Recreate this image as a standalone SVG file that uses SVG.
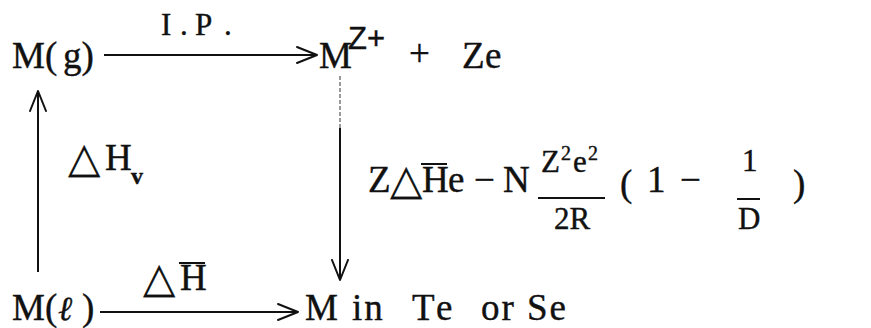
<svg xmlns="http://www.w3.org/2000/svg" width="871" height="328" viewBox="0 0 871 328">
<defs>
<style>
text{fill:#111;stroke:#111;stroke-width:0.4;}
.big{font-size:37px;}
.mid{font-size:31px;}
.sm{font-size:20px;}
.tri{font-family:'DejaVu Sans',sans-serif;font-size:42px;stroke-width:0.2;}
.ln{stroke:#111;stroke-width:2;fill:none;}
.bar{stroke:#111;stroke-width:2;}
.head{stroke:#111;stroke-width:2;fill:none;stroke-linecap:round;stroke-linejoin:round;}
</style>
<marker id="arr" viewBox="0 0 22 20" refX="21" refY="10" markerWidth="22" markerHeight="20" markerUnits="userSpaceOnUse" orient="auto">
<path d="M1,2 L21,10 L1,18" class="head"/>
</marker>
</defs>
<rect width="871" height="328" fill="#fff"/>
<g id="connectors">
<line class="ln" x1="104" y1="55" x2="317" y2="55" marker-end="url(#arr)"/>
<line class="ln" x1="38" y1="272" x2="38" y2="91" marker-end="url(#arr)"/>
<line x1="340" y1="76" x2="340" y2="128" stroke="#555" stroke-width="1.2" stroke-dasharray="4,2"/>
<line class="ln" x1="340" y1="128" x2="340" y2="280" marker-end="url(#arr)"/>
<line class="ln" x1="100" y1="312" x2="298" y2="312" marker-end="url(#arr)"/>
</g>
<g font-family="Liberation Serif, Times New Roman, DejaVu Serif, serif">
<g id="label-ip"><text class="mid" x="161" y="35">I</text><text class="mid" x="180" y="35">.</text><text class="mid" x="195" y="35">P</text><text class="mid" x="224" y="35">.</text></g>
<g id="node-mg"><text class="big" x="12" y="68">M(</text><text class="big" x="63" y="68">g)</text></g>
<g id="node-mz"><text class="big" x="319" y="68">M</text><text x="348" y="49" font-family="Liberation Sans, Arial, sans-serif" font-size="31">Z+</text><text class="big" x="409" y="66">+</text><text class="big" x="462" y="68">Z</text><text class="big" x="485" y="68">e</text></g>
<g id="label-hv"><text class="tri" x="68" y="172">△</text><text class="big" x="105" y="170">H</text><text x="131" y="184" font-size="24" font-weight="bold">v</text></g>
<g id="label-formula">
<text class="big" x="368" y="192">Z</text>
<text class="tri" x="390" y="194">△</text>
<text class="big" x="422" y="192">H</text>
<line class="bar" x1="421" y1="164" x2="447" y2="164"/>
<text class="big" x="448" y="192">e</text>
<text class="big" x="474" y="192">−</text>
<text class="big" x="503" y="192">N</text>
<text class="mid" x="541" y="172">Z</text><text class="sm" x="561" y="160">2</text><text class="mid" x="573" y="172">e</text><text class="sm" x="588" y="160">2</text>
<line class="bar" x1="538" y1="198" x2="605" y2="198"/>
<text class="mid" x="554" y="229">2R</text>
<text class="big" x="620" y="196">(</text>
<text class="big" x="647" y="192">1</text>
<text class="big" x="680" y="192">−</text>
<text class="mid" x="742" y="171">1</text>
<line class="bar" x1="737" y1="199" x2="760" y2="199"/>
<text class="mid" x="738" y="229">D</text>
<text class="big" x="793" y="196">)</text>
</g>
<g id="node-ml"><text class="big" x="12" y="320">M(</text><text x="58" y="320" font-family="DejaVu Serif, serif" font-size="34" font-style="italic">ℓ</text><text class="big" x="82" y="320">)</text></g>
<g id="label-dh"><text class="tri" x="143" y="292">△</text><text class="big" x="180" y="290">H</text><line class="bar" x1="179" y1="263" x2="205" y2="263"/></g>
<g id="node-mte"><text class="big" x="305" y="320">M</text><text class="big" x="352" y="320" letter-spacing="2">in</text><text class="big" x="412" y="320" letter-spacing="4">Te</text><text class="big" x="481" y="320" letter-spacing="2">or</text><text class="big" x="527" y="320" letter-spacing="2">Se</text></g>
</g>
</svg>
